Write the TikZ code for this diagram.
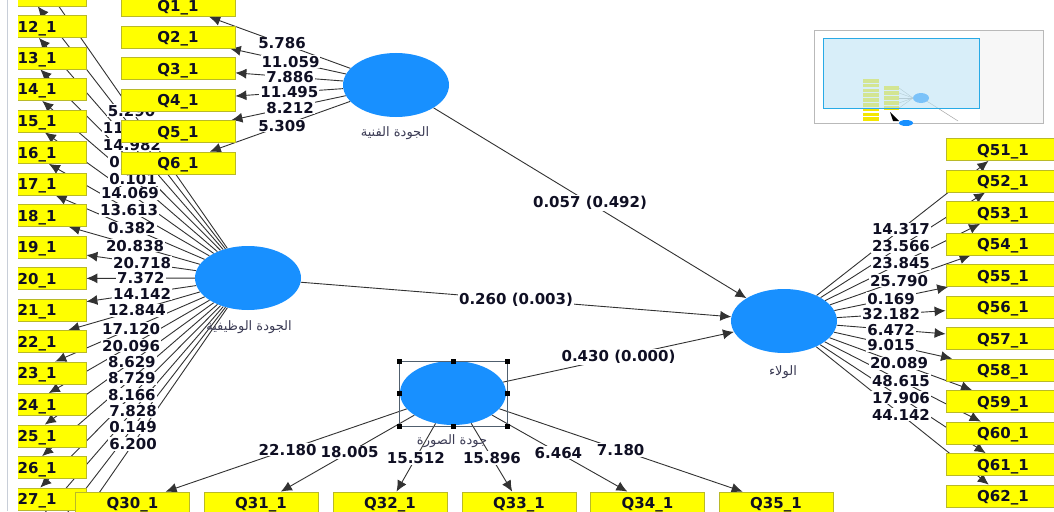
\documentclass[tikz,border=0pt]{standalone}
\usepackage{fontspec}
\setmainfont{DejaVu Sans}
\newfontfamily\arabicfont[Script=Arabic]{DejaVu Sans}
\TeXXeTstate=1
\usetikzlibrary{shapes.geometric,arrows.meta}
\pgfdeclarelayer{bg}
\pgfdeclarelayer{edges}
\pgfsetlayers{bg,edges,main}
\definecolor{nodeblue}{RGB}{24,144,255}
\definecolor{boxyellow}{RGB}{255,255,0}
\definecolor{boxedge}{RGB}{185,185,40}
\definecolor{linegray}{RGB}{50,50,50}
\definecolor{txt}{RGB}{15,15,35}
\definecolor{artxt}{RGB}{60,60,85}
\definecolor{selgray}{RGB}{80,95,110}
\definecolor{thumbblue}{RGB}{40,170,230}
\definecolor{thumbfill}{RGB}{190,228,245}
\definecolor{thumbgray}{RGB}{247,247,247}
\definecolor{marginline}{RGB}{200,206,216}
\tikzset{
  lv/.style={ellipse, fill=nodeblue, minimum width=106pt, minimum height=64pt, inner sep=0pt},
  ind/.style={rectangle, fill=boxyellow, draw=boxedge, line width=0.8pt, minimum width=114pt,
    minimum height=22pt, inner sep=0pt, text depth=0pt, font=\bfseries\fontsize{15}{15}\selectfont, text=txt},
  indtext/.style={anchor=west, inner sep=0pt, text depth=0pt, font=\bfseries\fontsize{15}{15}\selectfont, text=txt},
  conn/.style={draw=linegray, line width=0.9pt, -{Latex[length=11pt,width=10pt]}},
  lbl/.style={fill=white, inner sep=1pt, font=\bfseries\fontsize{15}{15}\selectfont, text=txt},
  arlbl/.style={font=\arabicfont\fontsize{13}{13}\selectfont, text=artxt, inner sep=0pt},
  handle/.style={fill=black},
}
\begin{document}
\begin{tikzpicture}[x=1pt,y=-1pt]
\useasboundingbox (0,0) rectangle (1054,511);
\clip (0,0) rectangle (1054,511);
\begin{pgfonlayer}{bg}
\fill[white] (0,0) rectangle (1054,511);
\end{pgfonlayer}

% latent variables
\node[lv] (E1) at (396,85) {};
\node[lv] (E2) at (248,278) {};
\node[lv] (E3) at (453,393) {};
\node[lv] (E4) at (784,321) {};
\node[arlbl] (E1t) at (395,133) {\beginR الجودة الفنية\endR};
\node[arlbl] (E2t) at (249,327) {\beginR الجودة الوظيفية\endR};
\node[arlbl] (E3t) at (452,441) {\beginR جودة الصورة\endR};
\node[arlbl] (E4t) at (783,372) {\beginR الولاء\endR};

% indicator boxes
\coordinate (A10) at (29,-36.5);
\foreach \k in {11,...,27} {\node[ind] (A\k) at (29,{26.5+(\k-12)*31.5}) {};}
\coordinate (A28) at (29,531);
\coordinate (A29) at (29,562.5);
\coordinate (A30) at (29,594);
\foreach \k in {1,...,6} {\node[ind] (B\k) at (178,{5.5+(\k-1)*31.5}) {Q\k\_1};}
\foreach \k in {51,...,62} {\node[ind] (R\k) at (1003,{149.5+(\k-51)*31.5}) {Q\k\_1};}
\foreach \k/\x in {30/132.5,31/261,32/390,33/519,34/647.5,35/776} {\node[ind] (C\k) at (\x,503) {Q\k\_1};}

\begin{pgfonlayer}{edges}
  % structural paths
  \draw[conn] (E1) -- (E4);
  \draw[conn] (E2) -- (E4);
  \draw[conn] (E3) -- (E4);
  % measurement paths
  \foreach \k in {10,...,30} {\draw[conn] (E2) -- (A\k);}
  \foreach \k in {1,...,6} {\draw[conn] (E1) -- (B\k);}
  \foreach \k in {51,...,62} {\draw[conn] (E4) -- (R\k);}
  \foreach \k in {30,...,35} {\draw[conn] (E3) -- (C\k);}
  % labels
  \path (E1.center) -- node[lbl] (p1) {0.057 (0.492)} (E4.center);
  \path (E2.center) -- node[lbl] (p2) {0.260 (0.003)} (E4.center);
  \path (E3.center) -- node[lbl] (p3) {0.430 (0.000)} (E4.center);
  \foreach \k/\p/\v in {10/0.532/5.290, 11/0.53/{11\phantom{.000}}, 12/0.53/14.982, 13/0.525/{0.\phantom{000}},
      14/0.525/0.101, 15/0.539/14.069, 16/0.543/13.613, 17/0.53/0.382, 18/0.516/20.838,
      19/0.484/20.718, 20/0.489/7.372, 21/0.484/14.142, 22/0.507/12.844, 23/0.534/17.120,
      24/0.534/20.096, 25/0.53/8.629, 26/0.53/8.729, 27/0.53/8.166, 28/0.525/7.828,
      29/0.525/0.149, 30/0.525/6.200}
    {\path (E2.center) -- node[lbl,pos=\p] (la\k) {\v} (A\k.center);}
  \foreach \k/\p/\v in {1/0.523/5.786, 2/0.484/11.059, 3/0.486/7.886, 4/0.489/11.495, 5/0.486/8.212, 6/0.523/5.309}
    {\path (E1.center) -- node[lbl,pos=\p] (lb\k) {\v} (B\k.center);}
  \foreach \k/\p/\v in {51/0.534/14.317, 52/0.534/23.566, 53/0.534/23.845, 54/0.525/25.790,
      55/0.489/0.169, 56/0.489/32.182, 57/0.489/6.472, 58/0.489/9.015, 59/0.525/20.089,
      60/0.534/48.615, 61/0.534/17.906, 62/0.534/44.142}
    {\path (E4.center) -- node[lbl,pos=\p] (lr\k) {\v} (R\k.center);}
  \foreach \k/\p/\v in {30/0.516/22.180, 31/0.539/18.005, 32/0.59/15.512, 33/0.59/15.896, 34/0.542/6.464, 35/0.519/7.180}
    {\path (E3.center) -- node[lbl,pos=\p] (lc\k) {\v} (C\k.center);}
\end{pgfonlayer}

% left margin cover and text of the clipped column
\fill[white] (0,0) rectangle (17.5,511);
\draw[marginline, line width=1pt] (7,0) -- (7,511);
\foreach \k in {12,...,27} {\node[indtext] (A\k t) at (17.5,{26.5+(\k-12)*31.5}) {\k\_1};}

% selection frame
\draw[selgray, line width=0.9pt] (399.5,361.5) rectangle (507.5,426);
\foreach \x/\y in {399.5/361.5, 453.5/361.5, 507.5/361.5, 399.5/393.5, 507.5/393.5, 399.5/426, 453.5/426, 507.5/426}
  {\fill[handle] (\x-2.5,\y-2.5) rectangle ++(5,5);}

% overview thumbnail
\fill[white] (814.5,30) rectangle (980,123);
\fill[thumbgray] (980,30) rectangle (1043,123);
\draw[gray!55, line width=0.8pt] (814.5,30) rectangle (1043,123);
\foreach \i in {0,...,8} {\fill[yellow!90!olive] (863,{79+\i*4.8}) rectangle ++(16,3.6);}
\foreach \i in {0,...,4} {\fill[yellow!90!olive] (884,{86+\i*5}) rectangle ++(15,3.6);}
\foreach \i in {0,...,4} {\draw[gray!70, line width=0.4pt] (899,{88+\i*5}) -- (913,98);}
\draw[gray!70, line width=0.5pt] (925,100) -- (958,121);
\fill[nodeblue] (921,98) ellipse (8 and 5);
\fill[black] (890,112) -- (893,121) -- (899,121) -- cycle;
\fill[nodeblue] (906,123) ellipse (7 and 3);
\fill[thumbfill, opacity=0.6] (823,38) rectangle (979,108);
\draw[thumbblue, line width=0.9pt] (823,38) rectangle (979,108);
\end{tikzpicture}
\end{document}
